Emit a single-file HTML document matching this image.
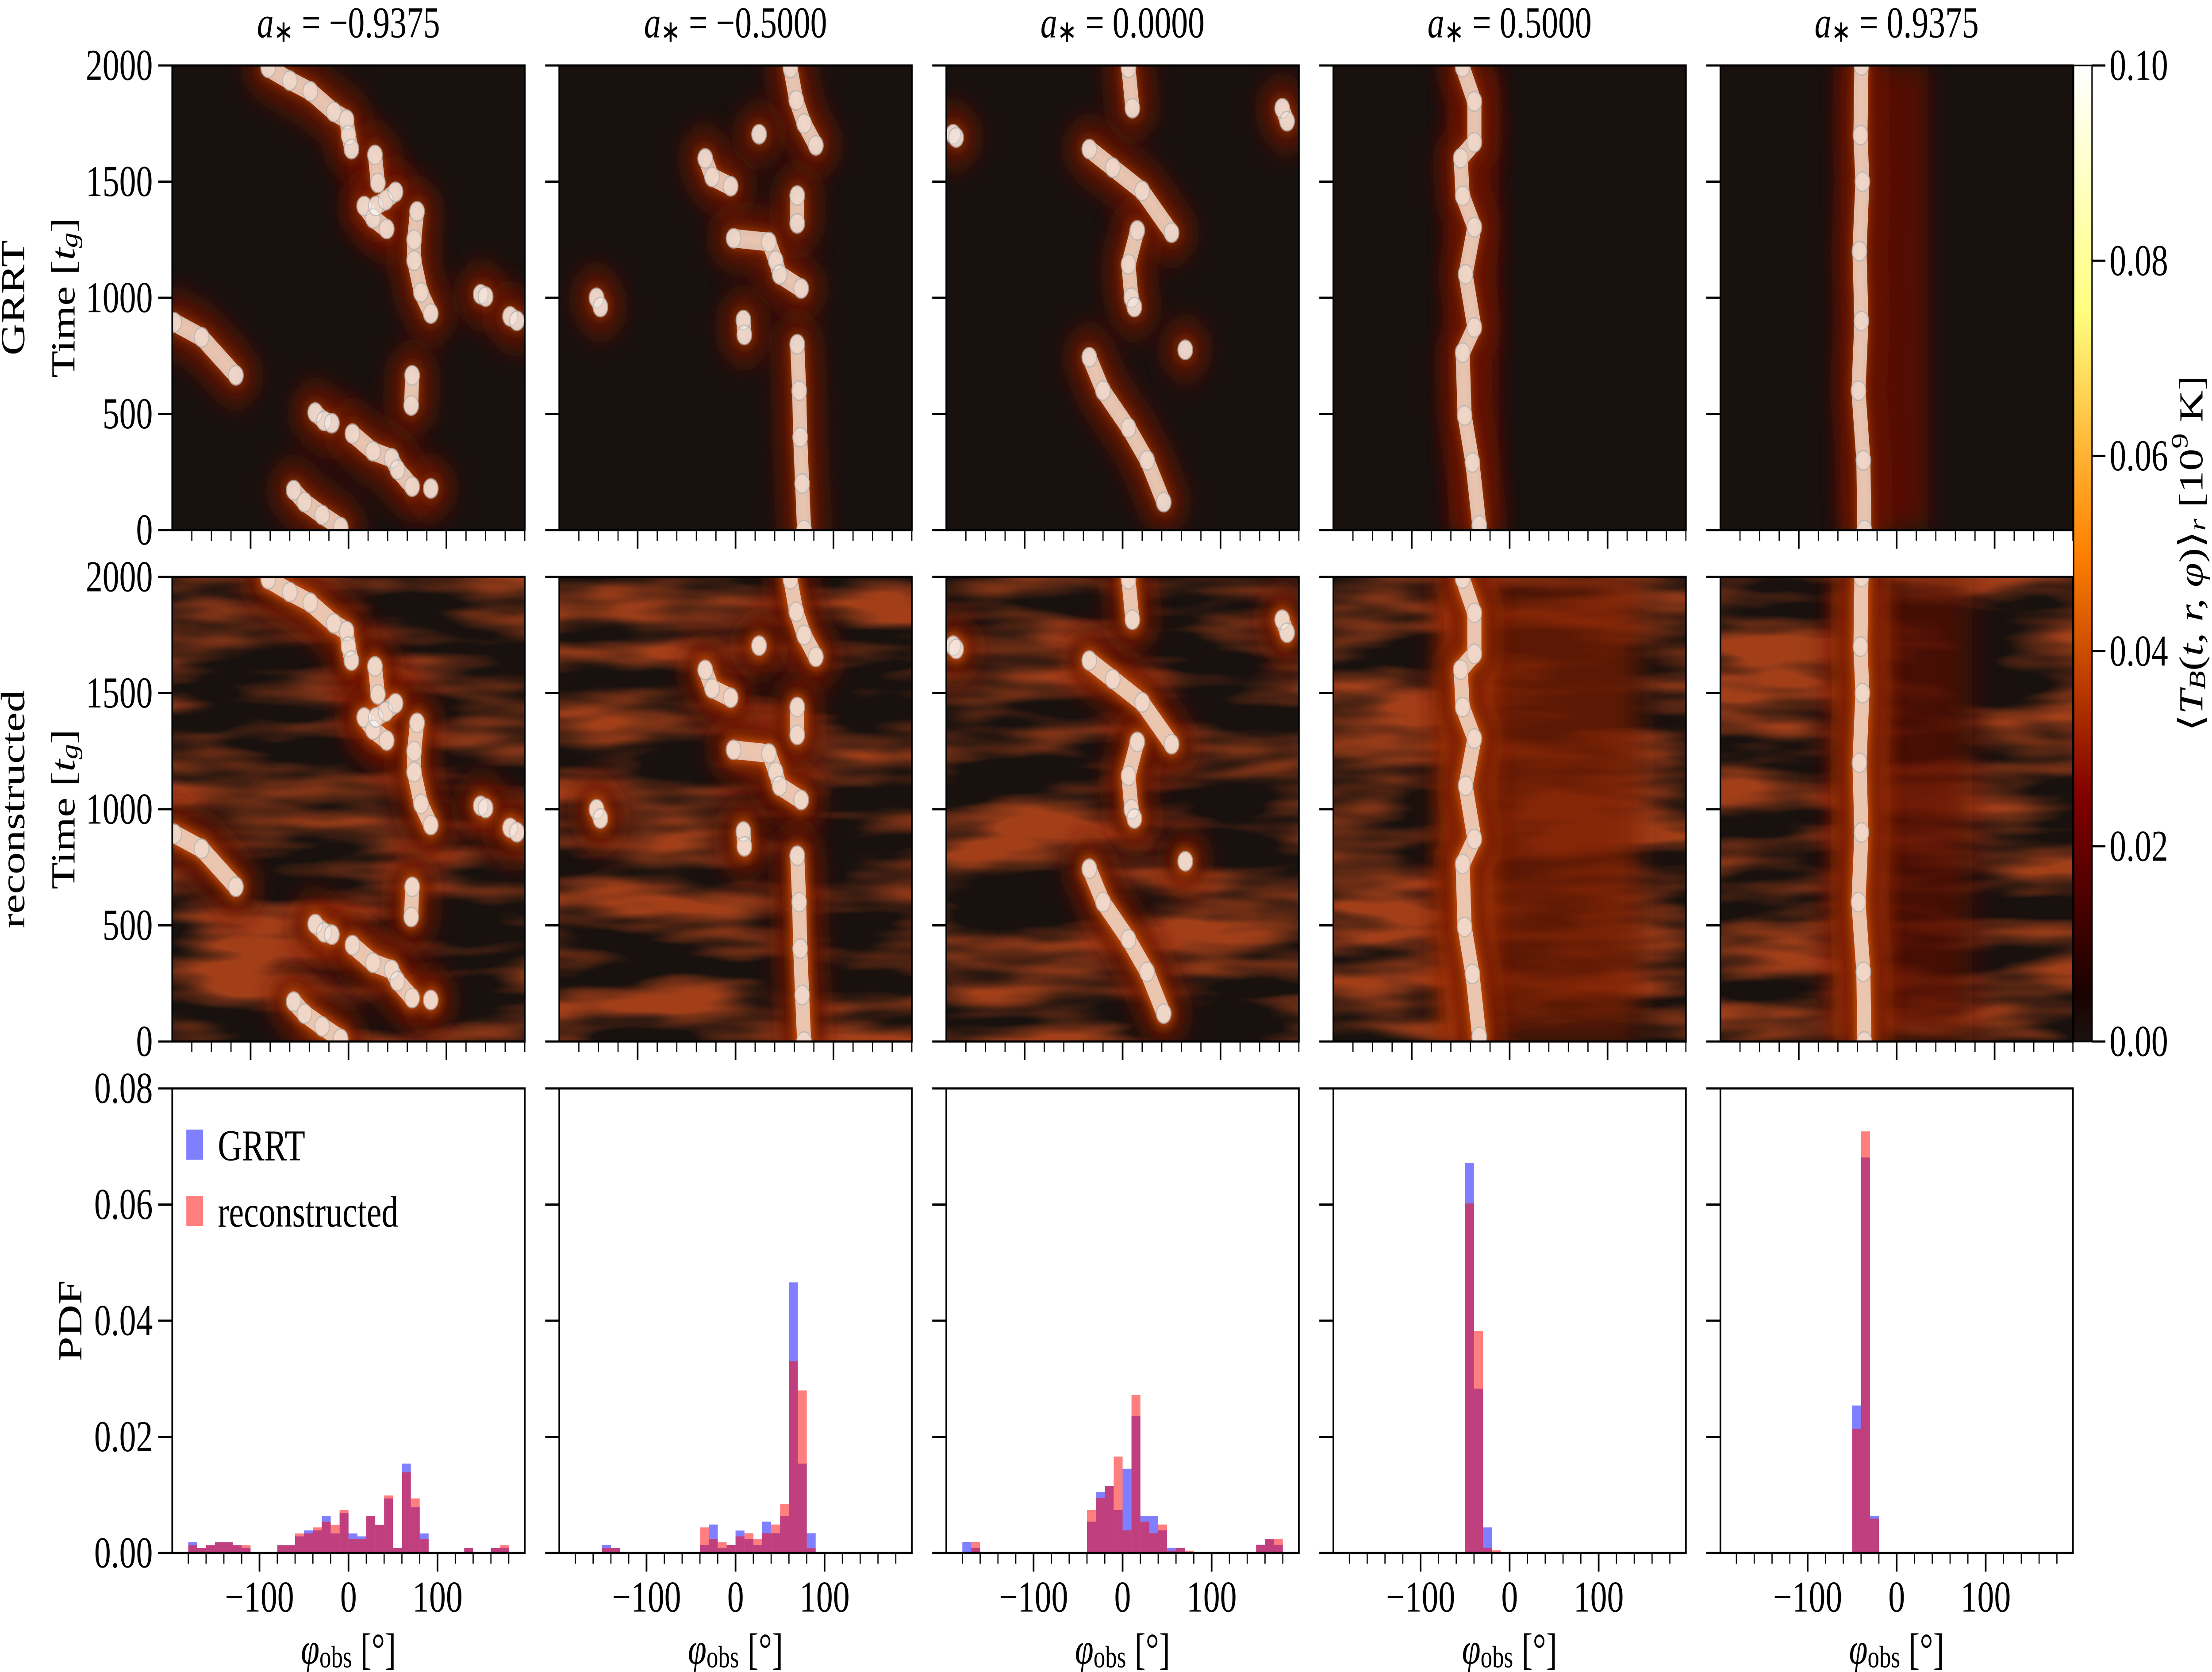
<!DOCTYPE html>
<html><head><meta charset="utf-8">
<style>
html,body{margin:0;padding:0;background:#fff;overflow:hidden;width:100%;height:100%;}
svg{position:fixed;left:0;top:0;width:100vw;height:100vh;display:block;}
text{font-family:"Liberation Serif",serif;}
</style></head>
<body>
<svg id="fig" xmlns="http://www.w3.org/2000/svg" viewBox="0 0 6601 3779" preserveAspectRatio="none" font-family="Liberation Serif, serif">
<defs>
  <linearGradient id="cbar" x1="0" y1="1" x2="0" y2="0">
    <stop offset="0" stop-color="#1a1210"/>
    <stop offset="0.05" stop-color="#1a0200"/>
    <stop offset="0.25" stop-color="#800000"/>
    <stop offset="0.5" stop-color="#ff8000"/>
    <stop offset="0.75" stop-color="#ffff80"/>
    <stop offset="1" stop-color="#ffffff"/>
  </linearGradient>
  <filter id="blurBig" filterUnits="userSpaceOnUse" x="0" y="0" width="6601" height="3779"><feGaussianBlur stdDeviation="30"/></filter>
  <filter id="blurMid" filterUnits="userSpaceOnUse" x="0" y="0" width="6601" height="3779"><feGaussianBlur stdDeviation="12"/></filter>
  <filter id="blurHuge" filterUnits="userSpaceOnUse" x="0" y="0" width="6601" height="3779"><feGaussianBlur stdDeviation="45"/></filter>
</defs>
<g id="root"></g>
</svg>
<script>
// ---------- data ----------
const spinLabels = ['−0.9375','−0.5000','0.0000','0.5000','0.9375'];
const binStart = -180, binWidth = 10;
const grrt1 = [.00186,.00087,.00135,.00186,.00186,.00135,.00087,0,0,0,.00135,.00135,.00286,.00388,.00388,.0064,.00337,.0069,.00337,.00286,.0064,.00487,.0094,.00087,.0154,.0079,.00337,0,0,0,0,.00087,0,0,.00087,.00087];
const recon1 = [.00135,.00087,.00135,.00186,.00186,.00135,.00135,0,0,0,.00135,.00135,.00337,.00337,.0044,.0054,.00487,.0074,.00237,.00237,.0064,.00487,.0099,.00087,.0139,.0094,.00237,0,0,0,0,.00087,0,0,.00087,.00135];
const grrt2 = [0,0,0,.00137,.00083,0,0,0,0,0,0,0,0,0,.00137,.0049,.00083,.00137,.00386,.00236,.00137,.0054,.0034,.0064,.0466,.0154,.0034,0,0,0,0,0,0,0,0,0];
const recon2 = [0,0,0,.00083,.00083,0,0,0,0,0,0,0,0,0,.0044,.00236,.00187,.00137,.00286,.0034,.00236,.0034,.0049,.0084,.033,.028,.00083,0,0,0,0,0,0,0,0,0];
const grrt3 = [.0019,.00088,0,0,0,0,0,0,0,0,0,0,0,0,.0054,.0105,.0115,.0074,.0145,.0236,.0064,.0064,.0039,.00088,.00088,0,0,0,0,0,0,0,0,.0014,.0024,.0014];
const recon3 = [0,.0019,0,0,0,0,0,0,0,0,0,0,0,0,.0074,.0095,.0115,.0166,.0039,.0272,.0054,.0034,.0049,.0004,.00088,.0004,0,0,0,0,0,0,0,.0014,.0024,.0024];
const grrt4 = [0,0,0,0,0,0,0,0,0,0,0,0,0,.0672,.0283,.0044,0,0,0,0,0,0,0,0,0,0,0,0,0,0,0,0,0,0,0,0];
const recon4 = [0,0,0,0,0,0,0,0,0,0,0,0,0,.0602,.0382,.0009,.00045,0,0,0,0,0,0,0,0,0,0,0,0,0,0,0,0,0,0,0];
const grrt5 = [0,0,0,0,0,0,0,0,0,0,0,0,0,.0254,.0681,.00635,0,0,0,0,0,0,0,0,0,0,0,0,0,0,0,0,0,0,0,0];
const recon5 = [0,0,0,0,0,0,0,0,0,0,0,0,0,.0214,.0726,.0059,0,0,0,0,0,0,0,0,0,0,0,0,0,0,0,0,0,0,0,0];
const grrtHists = [grrt1,grrt2,grrt3,grrt4,grrt5];
const reconHists = [recon1,recon2,recon3,recon4,recon5];
// hotspot tracks [phi_deg, time_tg]
const tracks1 = [
 [[-82,1990],[-60,1935],[-39,1889],[-15,1800],[-2,1767],[0,1700],[3,1640]],
 [[27,1615],[30,1494]],
 [[16,1395],[25,1342],[39,1296]],
 [[28,1395],[38,1420],[48,1456]],
 [[70,1372],[67,1250],[67,1160],[74,1023],[84,932]],
 [[135,1015],[140,1005]],
 [[165,920],[172,901]],
 [[-178,894],[-150,830],[-115,666]],
 [[65,666],[64,536]],
 [[-34,506],[-25,470],[-17,460]],
 [[4,415],[25,339],[44,309],[50,260],[65,187]],
 [[84,179]],
 [[-56,172],[-45,120],[-27,65],[-8,12]]
];
const tracks2 = [
 [[56,1990],[62,1850],[70,1750],[82,1656]],
 [[-31,1600],[-24,1520],[-5,1480]],
 [[24,1704]],
 [[-2,1256],[34,1240],[41,1160],[45,1100],[67,1040]],
 [[8,904],[9,840]],
 [[-142,1000],[-138,960]],
 [[63,800],[65,600],[66,400],[68,200],[70,0]],
 [[63,1440],[63,1320]]
];
const tracks3 = [
 [[-173,1704],[-170,1690]],
 [[-34,1640],[-10,1560],[20,1460],[50,1280]],
 [[6,1990],[10,1816]],
 [[15,1290],[6,1144],[9,1000],[12,960]],
 [[64,776]],
 [[-34,744],[-20,600],[6,440],[25,300],[42,120]],
 [[163,1816],[168,1760]]
];
const tracks4 = [
 [[-48,1993],[-36,1845],[-36,1669],[-50,1601],[-48,1439],[-36,1304],[-45,1101],[-36,872],[-48,764],[-46,493],[-38,291],[-31,20]]
];
const tracks5 = [
 [[-36,2000],[-37,1700],[-35,1500],[-38,1200],[-36,900],[-39,600],[-34,300],[-33,0]]
];
const allTracks = [tracks1,tracks2,tracks3,tracks4,tracks5];
const timeTicks = [0,500,1000,1500,2000];
const pdfTicks = [0,0.02,0.04,0.06,0.08];
const pdfTickLabels = ['0.00','0.02','0.04','0.06','0.08'];
const cbarTicks = [0,0.02,0.04,0.06,0.08,0.10];
const cbarTickLabels = ['0.00','0.02','0.04','0.06','0.08','0.10'];

// ---------- layout ----------
const NS='http://www.w3.org/2000/svg';
const root=document.getElementById('root');
const defs=document.querySelector('defs');
const L=[514,1669,2824,3979,5134], W=1052, T=[148,1304,2460], H=1050;
const FS=100;
const FF='Liberation Serif, serif';
function el(tag,attrs,parent){const e=document.createElementNS(NS,tag);for(const k in attrs)e.setAttribute(k,attrs[k]);if(tag==='text')e.setAttribute('font-family',FF);(parent||root).appendChild(e);return e;}
const hx=(phi,i)=>L[i]+(phi+180)/360*W;
const ht=(t,r)=>T[r]+H-t/2000*H;
const px=(phi,i)=>L[i]+(phi+198)/396*W;
const py=v=>T[2]+H-v/0.08*H;

// ---------- heatmaps ----------
for(let r=0;r<2;r++){
 for(let i=0;i<5;i++){
  const g=el('g',{});
  
  
  const cp=el('clipPath',{id:'cp'+r+i},defs);
  el('rect',{x:L[i],y:T[r],width:W,height:H},cp);
  const inner=el('g',{'clip-path':'url(#cp'+r+i+')'},g);
  el('rect',{x:L[i],y:T[r],width:W,height:H,fill:'#18110e'},inner);
  if(r===1){
   const f=el('filter',{id:'nz'+i,filterUnits:'userSpaceOnUse',x:L[i],y:T[r],width:W,height:H},defs);
   el('feTurbulence',{type:'fractalNoise',baseFrequency:'0.0018 0.012',numOctaves:'3',seed:String(3+i*7),result:'n'},f);
   el('feColorMatrix',{type:'matrix',values:'0 0 0 0 0.36  0 0 0 0 0.05  0 0 0 0 0.01  3.0 0 0 0 -1.15'},f);
   el('rect',{x:L[i],y:T[r],width:W,height:H,fill:'#fff',filter:'url(#nz'+i+')'},inner);
   if(i>=3){
    const c=hx(i===3?-42:-36,i);
    el('rect',{x:c-90,y:T[r],width:i===3?600:420,height:H,fill:i===3?'#7a1a04':'#5a0e02',opacity:0.7,filter:'url(#blurHuge)'},inner);
    el('rect',{x:c-70,y:T[r],width:140,height:H,fill:'#c84a08',opacity:0.9,filter:'url(#blurBig)'},inner);
   }
  } else if(i>=3){
   const c=hx(i===3?-42:-36,i);
   el('rect',{x:c-60,y:T[r],width:i===3?150:260,height:H,fill:'#5e1002',opacity:0.85,filter:'url(#blurBig)'},inner);
  }
  const tr=allTracks[i];
  const paths=tr.map(seg=>seg.map((p,k)=>(k?'L':'M')+hx(p[0],i).toFixed(1)+' '+ht(p[1],r).toFixed(1)).join(' ')+(seg.length===1?' l0.1 0':''));
  paths.forEach(d=>{el('path',{d:d,fill:'none',stroke:'#6e1402','stroke-width':r?140:130,'stroke-linecap':'round','stroke-linejoin':'round',opacity:0.9,filter:'url(#blurBig)'},inner);});
  paths.forEach(d=>{el('path',{d:d,fill:'none',stroke:'#e0600f','stroke-width':r?55:35,'stroke-linecap':'round','stroke-linejoin':'round',opacity:0.85,filter:'url(#blurMid)'},inner);});
  paths.forEach(d=>{
   const p=el('path',{d:d,fill:'none',stroke:'#f3e2d8','stroke-width':42,'stroke-linecap':'round','stroke-linejoin':'round',opacity:0.8},inner);
   
   
  });
  tr.forEach(seg=>seg.forEach(p=>{
   const c=el('circle',{cx:hx(p[0],i),cy:ht(p[1],r),r:22,fill:'rgba(255,255,255,0.3)',stroke:'rgba(175,175,175,0.7)','stroke-width':3},inner);
   
   
  }));
  el('rect',{x:L[i],y:T[r],width:W,height:H,fill:'none',stroke:'#000','stroke-width':5},g);
  for(let v=-160;v<=180;v+=20){
   const major=(v===-100||v===0||v===100);
   el('line',{x1:hx(v,i),x2:hx(v,i),y1:T[r]+H,y2:T[r]+H+(major?42:24),stroke:'#000','stroke-width':major?5:3.5},g);
  }
  timeTicks.forEach(v=>{
   el('line',{x1:L[i]-42,x2:L[i],y1:ht(v,r),y2:ht(v,r),stroke:'#000','stroke-width':5},g);
   if(i===0){
    const t=el('text',{x:L[i]-58,y:ht(v,r),'font-size':FS,'text-anchor':'end','dominant-baseline':'central'},g);
    t.textContent=v;
    
    
   }
  });
 }
}

// ---------- histograms ----------
for(let i=0;i<5;i++){
 const g=el('g',{});
 
 
 [[grrtHists[i],'rgba(0,0,255,0.5)','grrt'],[reconHists[i],'rgba(255,0,0,0.5)','reconstructed']].forEach(([arr,col,nm])=>{
  arr.forEach((v,k)=>{
   if(v<=0)return;
   const x0=px(binStart+k*binWidth,i), x1=px(binStart+(k+1)*binWidth,i);
   const b=el('rect',{x:x0,y:py(v),width:x1-x0,height:py(0)-py(v),fill:col},g);
   
   
  });
 });
 el('rect',{x:L[i],y:T[2],width:W,height:H,fill:'none',stroke:'#000','stroke-width':5},g);
 for(let v=-180;v<=180;v+=20){
  const major=(v===-100||v===0||v===100);
  el('line',{x1:px(v,i),x2:px(v,i),y1:T[2]+H,y2:T[2]+H+(major?42:24),stroke:'#000','stroke-width':major?5:3.5},g);
 }
 [[-100,'−100'],[0,'0'],[100,'100']].forEach(([v,s])=>{
  const t=el('text',{x:px(v,i),y:T[2]+H+100,'font-size':FS,'text-anchor':'middle','dominant-baseline':'central'},g);
  t.textContent=s;
  
  
 });
 pdfTicks.forEach((v,k)=>{
  el('line',{x1:L[i]-42,x2:L[i],y1:py(v),y2:py(v),stroke:'#000','stroke-width':5},g);
  if(i===0){
   const t=el('text',{x:L[i]-58,y:py(v),'font-size':FS,'text-anchor':'end','dominant-baseline':'central'},g);
   t.textContent=pdfTickLabels[k];
   
   
  }
 });
 const xl=el('text',{x:L[i]+W/2,y:3728,'font-size':FS,'text-anchor':'middle','dominant-baseline':'central'},g);
 xl.innerHTML='<tspan font-style="italic">φ</tspan><tspan font-size="70" dy="18">obs</tspan><tspan dy="-18"> [°]</tspan>';
 
 
 const tt=el('text',{x:L[i]+W/2,y:52,'font-size':FS,'text-anchor':'middle','dominant-baseline':'central'});
 tt.innerHTML='<tspan font-style="italic">a</tspan><tspan font-size="70" dy="20">∗</tspan><tspan dy="-20"> = '+spinLabels[i]+'</tspan>';
 
 
}

// ---------- legend ----------
const lg=el('g',{});


el('rect',{x:556,y:2553,width:50,height:68,fill:'rgba(0,0,255,0.5)'},lg);
el('rect',{x:556,y:2703,width:50,height:68,fill:'rgba(255,0,0,0.5)'},lg);
const l1=el('text',{x:650,y:2590,'font-size':FS,'dominant-baseline':'central'},lg);l1.textContent='GRRT';


const l2=el('text',{x:650,y:2740,'font-size':FS,'dominant-baseline':'central'},lg);l2.textContent='reconstructed';



// ---------- row labels ----------
function rot(x,y,html,name){const t=el('text',{x:x,y:y,'font-size':FS,'text-anchor':'middle','dominant-baseline':'central',transform:'rotate(-90 '+x+' '+y+')'});t.innerHTML=html;return t;}
rot(190,T[0]+H/2,'Time [<tspan font-style="italic">t</tspan><tspan font-size="70" dy="18" font-style="italic">g</tspan><tspan dy="-18">]</tspan>','y-axis-title');
rot(190,T[1]+H/2,'Time [<tspan font-style="italic">t</tspan><tspan font-size="70" dy="18" font-style="italic">g</tspan><tspan dy="-18">]</tspan>','y-axis-title');
rot(40,T[0]+H/2,'GRRT','row-label-grrt');
rot(40,T[1]+H/2,'reconstructed','row-label-reconstructed');
rot(210,T[2]+H/2,'PDF','pdf-axis-title');

// ---------- colorbar ----------
const cb=el('g',{});


const cbTop=T[0], cbBot=T[1]+H, cbX=6188, cbW=55;
el('rect',{x:cbX,y:cbTop,width:cbW,height:cbBot-cbTop,fill:'url(#cbar)',stroke:'#000','stroke-width':4},cb);
cbarTicks.forEach((v,k)=>{
 const y=cbBot-v/0.10*(cbBot-cbTop);
 el('line',{x1:cbX+cbW,x2:cbX+cbW+40,y1:y,y2:y,stroke:'#000','stroke-width':5},cb);
 const t=el('text',{x:cbX+cbW+52,y:y,'font-size':FS,'dominant-baseline':'central'},cb);
 t.textContent=cbarTickLabels[k];
 
 
});
rot(6540,(cbTop+cbBot)/2,'⟨<tspan font-style="italic">T</tspan><tspan font-size="70" dy="18" font-style="italic">B</tspan><tspan dy="-18">(</tspan><tspan font-style="italic">t, r, φ</tspan>)⟩<tspan font-size="70" dy="18" font-style="italic">r</tspan><tspan dy="-18"> [10</tspan><tspan font-size="70" dy="-35">9</tspan><tspan dy="35"> K]</tspan>','colorbar-title');
</script>
</body></html>
